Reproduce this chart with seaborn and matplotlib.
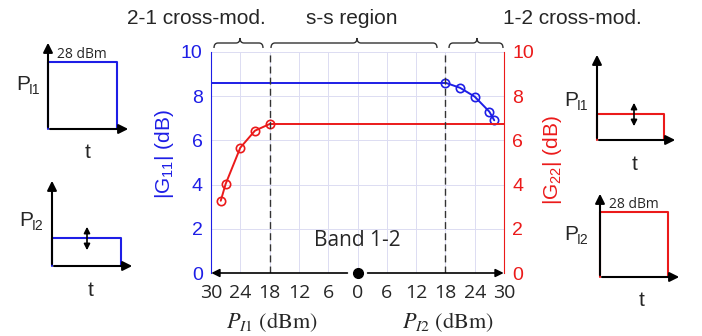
import numpy as np
import pandas as pd
import matplotlib as mpl
mpl.use('agg')
import matplotlib.pyplot as plt
from matplotlib.path import Path
from matplotlib.patches import PathPatch
import seaborn as sns

sns.set_style("white")
plt.rcParams['font.family'] = ['Liberation Sans', 'DejaVu Sans']

BLUE = '#1e1ee6'
RED = '#eb1a1a'
GRID = '#dcdcf2'

# |G22| rise in the 2-1 cross-mod region (P_I1 in dBm, left half)
p_i1 = [28, 27, 24, 21, 18]
g22_rise = [3.27, 4.03, 5.67, 6.44, 6.74]
# |G11| drop in the 1-2 cross-mod region (P_I2 in dBm, right half)
p_i2 = [18, 21, 24, 27, 28]
g11_drop = [8.61, 8.38, 7.98, 7.30, 6.91]
# flat s-s levels
g11_flat = 8.61
g22_flat = 6.74
xticks = [-30, -24, -18, -12, -6, 0, 6, 12, 18, 24, 30]
xtick_labels = [str(abs(v)) for v in xticks]
yticks = [0, 2, 4, 6, 8, 10]

df_red = pd.DataFrame({'x': [-p for p in p_i1], 'g': g22_rise})
df_blue = pd.DataFrame({'x': p_i2, 'g': g11_drop})
df_red_flat = pd.DataFrame({'x': [-18, 30], 'g': [g22_flat, g22_flat]})
df_blue_flat = pd.DataFrame({'x': [-30, 18], 'g': [g11_flat, g11_flat]})

fig = plt.figure(figsize=(7.02, 3.36), dpi=100)
W, H = 702, 336
ax = fig.add_axes([211 / W, (H - 273) / H, 293 / W, 221 / H])
ax2 = ax.twinx()

for a in (ax, ax2):
    a.set_xlim(-30, 30)
    a.set_ylim(0, 10)
    a.set_yticks(yticks)
    a.tick_params(length=0)
    for s in a.spines.values():
        s.set_visible(False)

ax.set_xticks(xticks)
ax.set_xticklabels(xtick_labels, fontsize=14, family='Open Sans')
ax.tick_params(axis='x', pad=8)
ax.grid(True, color=GRID, lw=0.7)
ax.set_axisbelow(True)
ax.spines['left'].set_visible(True)
ax.spines['left'].set_color(BLUE)
ax2.spines['right'].set_visible(True)
ax2.spines['right'].set_color(RED)
ax.tick_params(axis='y', colors=BLUE, labelsize=14, pad=6)
ax2.tick_params(axis='y', colors=RED, labelsize=14, pad=6)

sns.lineplot(data=df_blue_flat, x='x', y='g', ax=ax2, color=BLUE, lw=1.4)
sns.lineplot(data=df_blue, x='x', y='g', ax=ax2, color=BLUE, lw=1.4,
             marker='o', markersize=6, markerfacecolor='none', markeredgecolor=BLUE, markeredgewidth=1.2)
sns.lineplot(data=df_red_flat, x='x', y='g', ax=ax2, color=RED, lw=1.4)
sns.lineplot(data=df_red, x='x', y='g', ax=ax2, color=RED, lw=1.4,
             marker='o', markersize=6, markerfacecolor='none', markeredgecolor=RED, markeredgewidth=1.2)
ax.set_xlabel('')
ax2.set_xlabel('')
ax.set_ylabel(r'|G$_{\mathregular{11}}$| (dB)', color=BLUE, fontsize=15)
ax2.set_ylabel(r'|G$_{\mathregular{22}}$| (dB)', color=RED, fontsize=15)
ax.yaxis.set_label_coords(-0.12, 0.54)
ax2.yaxis.set_label_coords(1.125, 0.51)

for xv in (-18, 18):
    ax2.axvline(xv, color='#333333', lw=1.0, ls=(0, (5, 3)))

# bottom double arrow with origin dot
ax2.annotate('', xy=(-30.5, 0), xytext=(-1.5, 0), annotation_clip=False,
             arrowprops=dict(arrowstyle='-|>', color='black', lw=1.2, mutation_scale=12))
ax2.annotate('', xy=(30.5, 0), xytext=(1.5, 0), annotation_clip=False,
             arrowprops=dict(arrowstyle='-|>', color='black', lw=1.2, mutation_scale=12))
ax2.plot([0], [0], 'o', color='black', ms=7, clip_on=False, zorder=5)
ax2.text(0, 1.45, 'Band 1-2', ha='center', va='center', fontsize=15, family='Open Sans')

fig.text(272 / W, 1 - 322 / H, r'$P_{I1}\ \mathrm{(dBm)}$', ha='center', va='center',
         fontsize=16, math_fontfamily='stix')
fig.text(448 / W, 1 - 322 / H, r'$P_{I2}\ \mathrm{(dBm)}$', ha='center', va='center',
         fontsize=16, math_fontfamily='stix')

# overlay in pixel coordinates for annotations and side diagrams
ov = fig.add_axes([0, 0, 1, 1], zorder=10)
ov.set_xlim(0, W)
ov.set_ylim(H, 0)
ov.axis('off')
ov.patch.set_alpha(0)

for txt, xc in (('2-1 cross-mod.', 196), ('s-s region', 352), ('1-2 cross-mod.', 572)):
    ov.text(xc, 18, txt, ha='center', va='center', fontsize=15)


def brace(x0, x1, xm, y=43, h=5):
    r = 4
    verts = [(x0, y + h), (x0, y), (x0 + r, y), (xm - r, y), (xm, y), (xm, y - h),
             (xm, y), (xm + r, y), (x1 - r, y), (x1, y), (x1, y + h)]
    codes = [Path.MOVETO, Path.CURVE3, Path.CURVE3, Path.LINETO, Path.CURVE3, Path.CURVE3,
             Path.CURVE3, Path.CURVE3, Path.LINETO, Path.CURVE3, Path.CURVE3]
    ov.add_patch(PathPatch(Path(verts, codes), fill=False, color='#333333', lw=1.0))


brace(214, 263, 240)
brace(271, 437, 357)
brace(449, 503, 477)


def diagram(x0, y0, x_end, y_top, top, right, color, label, lab_xy, t_xy, big=False, dbl=None):
    arr = dict(arrowstyle='-|>', color='black', lw=1.5, mutation_scale=14)
    ov.annotate('', xy=(x0, y_top), xytext=(x0, y0 + 0.8), arrowprops=arr)
    ov.annotate('', xy=(x_end, y0), xytext=(x0 - 0.8, y0), arrowprops=arr)
    ov.plot([x0, x0, right, right], [y0, top, top, y0], color=color, lw=1.5)
    ov.text(lab_xy[0], lab_xy[1], 'P', ha='left', va='center', fontsize=15)
    ov.text(lab_xy[0] + 13, lab_xy[1] + 5, 'I' + label, ha='left', va='center', fontsize=10)
    ov.text(t_xy[0], t_xy[1], 't', ha='center', va='center', fontsize=15)
    if big:
        ov.text(x0 + 9, top - 8, '28 dBm', ha='left', va='center', fontsize=10, family='Open Sans')
    if dbl is not None:
        ov.annotate('', xy=(dbl, top - 14), xytext=(dbl, top + 15),
                    arrowprops=dict(arrowstyle='<|-|>', color='black', lw=1.2, mutation_scale=9))


diagram(48, 129, 131, 40, 62, 117, BLUE, '1', (16, 85), (88, 153), big=True)
diagram(52, 266, 135, 178, 238, 121, BLUE, '2', (19, 221), (91, 290), dbl=87)
diagram(597, 140, 678, 52, 114, 664, RED, '1', (564, 101), (635, 165), dbl=634)
diagram(600, 277, 682, 191, 212, 668, RED, '2', (564, 235), (642, 300), big=True)

fig.savefig('out.png', dpi=100)
